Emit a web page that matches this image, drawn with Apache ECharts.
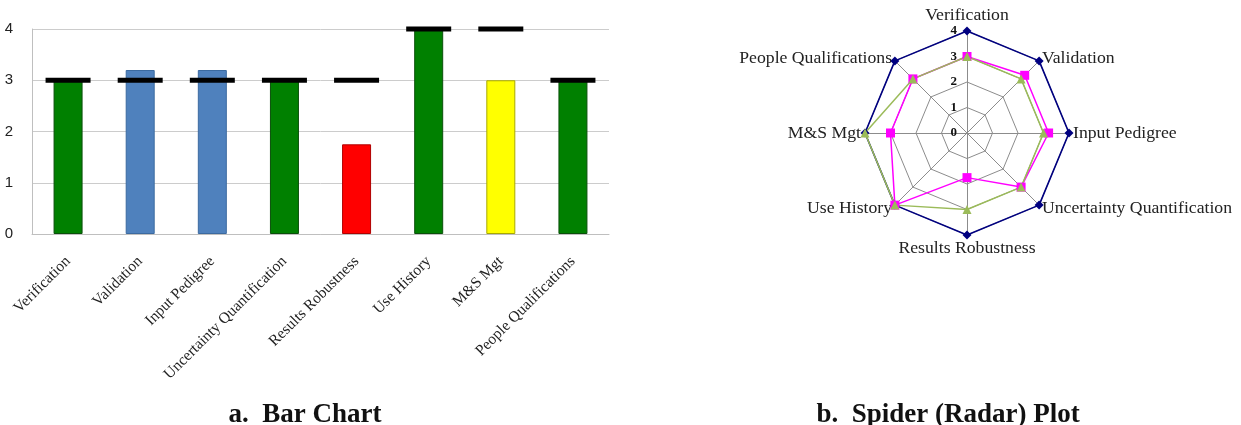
<!DOCTYPE html>
<html>
<head>
<meta charset="utf-8">
<script src="https://cdn.jsdelivr.net/npm/echarts@6/dist/echarts.min.js"></script>
<style>
html,body{margin:0;padding:0;background:#fff;}
#c{width:1241px;height:425px;}
</style>
</head>
<body>
<div id="c"></div>
<script>
// ---- data ----
var categories = ['Verification','Validation','Input Pedigree','Uncertainty Quantification','Results Robustness','Use History','M&S Mgt','People Qualifications'];
var actualScores = [3, 3.2, 3.2, 3, 1.75, 4, 3, 3];
var targetScores = [3, 3, 3, 3, 3, 4, 4, 3];
var maxScores = [4, 4, 4, 4, 4, 4, 4, 4];
var yTicks = [0, 1, 2, 3, 4];
// ---- styles (separate from data) ----
var barColors = ['#008000','#4F81BD','#4F81BD','#008000','#FF0000','#008000','#FFFF00','#008000'];
var barBorders = ['#0a4f0a','#3b6aa0','#3b6aa0','#0a4f0a','#b00000','#0a4f0a','#a8a800','#0a4f0a'];

var barData = actualScores.map(function(v,i){
  return {value:v, itemStyle:{color:barColors[i], borderColor:barBorders[i], borderWidth:1}};
});

// radar goes counter-clockwise; reorder so categories run clockwise from top
var order = [0,7,6,5,4,3,2,1];
function reorder(arr){ return order.map(function(i){return arr[i];}); }
var indicators = order.map(function(i,k){
  var ind = {name:categories[i], min:yTicks[0], max:yTicks[yTicks.length-1]};
  if(k===0){ ind.axisLabel = {show:true}; }
  return ind;
});

var chart = echarts.init(document.getElementById('c'), null, {renderer:'canvas'});
chart.setOption({
  backgroundColor:'#fff',
  animation:false,
  title:[
    {text:'a.  Bar Chart', left:300, top:397, textAlign:'center',
     textStyle:{fontFamily:'Liberation Serif', fontWeight:'bold', fontSize:27, color:'#111'}},
    {text:'b.  Spider (Radar) Plot', left:943, top:397, textAlign:'center',
     textStyle:{fontFamily:'Liberation Serif', fontWeight:'bold', fontSize:27, color:'#111'}}
  ],
  grid:{left:32, right:632, top:29, bottom:191, containLabel:false},
  xAxis:{
    type:'category', data:categories,
    axisLine:{show:true, lineStyle:{color:'#bfbfbf', width:1}},
    axisTick:{show:false},
    axisLabel:{rotate:45, interval:0, margin:25, fontFamily:'Liberation Serif', fontSize:15.5, color:'#222'}
  },
  yAxis:{
    type:'value', min:yTicks[0], max:yTicks[yTicks.length-1], interval:1,
    axisLine:{show:true, lineStyle:{color:'#bfbfbf', width:1}},
    axisTick:{show:false},
    splitLine:{lineStyle:{color:'#cccccc', width:1}},
    axisLabel:{fontFamily:'Liberation Sans', fontSize:15, color:'#222', margin:19}
  },
  radar:{
    center:[967,133], radius:102, startAngle:90, shape:'polygon', splitNumber:4,
    indicator:indicators,
    axisName:{fontFamily:'Liberation Serif', fontSize:17.7, color:'#222'},
    nameGap:4,
    splitLine:{lineStyle:{color:'#8c8c8c', width:1}},
    splitArea:{show:false},
    axisLine:{lineStyle:{color:'#8c8c8c', width:1}},
    axisTick:{show:false},
    axisLabel:{show:false, fontFamily:'Liberation Serif', fontWeight:'bold', fontSize:13, color:'#111', margin:10, showMaxLabel:true, showMinLabel:true}
  },
  series:[
    {type:'bar', data:barData, barWidth:29, z:2},
    {type:'scatter', data:targetScores, symbol:'rect', symbolSize:[45,5], itemStyle:{color:'#000', opacity:1}, z:5, silent:true},
    {type:'radar', z:3, data:[
      {value:reorder(maxScores), symbol:'diamond', symbolSize:9, itemStyle:{color:'#000080'}, lineStyle:{color:'#000080', width:1.6}},
      {value:reorder(actualScores), symbol:'rect', symbolSize:9, itemStyle:{color:'#FF00FF'}, lineStyle:{color:'#FF00FF', width:1.5}},
      {value:reorder(targetScores), symbol:'triangle', symbolSize:9, itemStyle:{color:'#9BBB59'}, lineStyle:{color:'#9BBB59', width:1.5}}
    ]}
  ]
});
</script>
</body>
</html>
